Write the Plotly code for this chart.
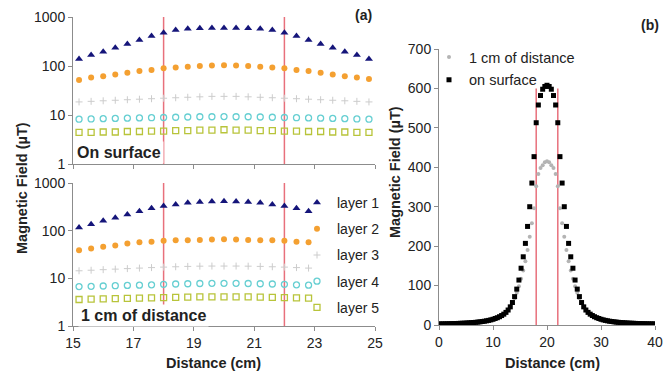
import plotly.graph_objects as go

W, H = 664, 372

# ---------------- data: panel (a) ----------------
x_top = [15.2, 15.6, 16.0, 16.4, 16.8, 17.2, 17.6, 18.0, 18.4, 18.8, 19.2, 19.6, 20.0,
         20.4, 20.8, 21.2, 21.6, 22.0, 22.4, 22.8, 23.2, 23.6, 24.0, 24.4, 24.8]
top_layer1 = [139, 167, 195, 236, 280, 339, 408, 478, 540, 575, 588, 595, 598,
              595, 588, 575, 540, 478, 408, 339, 280, 236, 195, 167, 139]
top_layer2 = [52, 58, 62, 67, 73, 79, 83, 90, 93, 97, 100, 102, 104,
              102, 100, 97, 93, 90, 83, 79, 73, 67, 62, 58, 54]
top_layer3 = [18.5, 19, 19.5, 20, 20.5, 21, 21.5, 22, 22.5, 23, 23.5, 24, 24,
              24, 23.5, 23, 22.5, 22, 21.5, 21, 20.5, 20, 19.5, 19, 18.5]
top_layer4 = [8.2, 8.3, 8.4, 8.5, 8.6, 8.7, 8.8, 8.9, 9.0, 9.1, 9.2, 9.2, 9.3,
              9.2, 9.2, 9.1, 9.0, 8.9, 8.8, 8.7, 8.6, 8.5, 8.4, 8.3, 8.2]
top_layer5 = [4.4, 4.4, 4.5, 4.5, 4.6, 4.6, 4.7, 4.7, 4.8, 4.8, 4.9, 4.9, 5.0,
              4.9, 4.9, 4.8, 4.8, 4.7, 4.7, 4.6, 4.6, 4.5, 4.5, 4.4, 4.4]

x_bot = [15.2, 15.6, 16.0, 16.4, 16.8, 17.2, 17.6, 18.0, 18.4, 18.8, 19.2, 19.6, 20.0,
         20.4, 20.8, 21.2, 21.6, 22.0, 22.4, 22.8]
bot_layer1 = [117, 137, 161, 187, 219, 257, 294, 330, 355, 385, 398, 410, 415,
              410, 398, 385, 355, 330, 294, 257]
bot_layer2 = [39, 42.5, 46, 49, 54, 57, 58.5, 61.5, 63, 63, 64, 65, 66,
              65, 64, 63, 63, 61.5, 58.5, 57]
bot_layer3 = [14.4, 14.8, 15.2, 15.6, 16, 16.4, 16.8, 17.2, 17.5, 17.8, 18, 18.1, 18.1,
              18.1, 18, 17.8, 17.5, 17.2, 16.8, 16.4]
bot_layer4 = [6.7, 6.8, 6.9, 7.0, 7.1, 7.2, 7.3, 7.5, 7.6, 7.7, 7.8, 7.85, 7.85,
              7.85, 7.8, 7.7, 7.6, 7.5, 7.3, 7.2]
bot_layer5 = [3.6, 3.65, 3.7, 3.75, 3.8, 3.85, 3.9, 3.95, 4.0, 4.05, 4.1, 4.1, 4.1,
              4.1, 4.1, 4.05, 4.0, 3.95, 3.9, 3.85]

layer_names = ["layer 1", "layer 2", "layer 3", "layer 4", "layer 5"]
log_ticks = [1, 10, 100, 1000]
a_xticks = [15, 17, 19, 21, 23, 25]
coil_edges = [18, 22]

# ---------------- data: panel (b) ----------------
x_b = [round(0.4 * i, 1) for i in range(101)]   # sampling grid 0..40 cm
on_surface = [2.7, 2.8, 2.9, 3.0, 3.1, 3.3, 3.4, 3.6, 3.8, 4.0, 4.3, 4.5, 4.8, 5.1, 5.5, 5.9,
              6.3, 6.8, 7.4, 8.0, 8.8, 9.6, 10.6, 11.7, 13, 14.5, 16.5, 18.5, 21, 24, 27.5,
              32, 38, 46, 57, 72, 91, 114, 144, 173, 207, 250, 300, 360, 427, 513, 558, 582,
              598, 605, 608,
              605, 598, 582, 558, 513, 427, 360, 300, 250, 207, 173, 144, 114, 91, 72, 57,
              46, 38, 32, 27.5, 24, 21, 18.5, 16.5, 14.5, 13, 11.7, 10.6, 9.6, 8.8, 8.0, 7.4,
              6.8, 6.3, 5.9, 5.5, 5.1, 4.8, 4.5, 4.3, 4.0, 3.8, 3.6, 3.4, 3.3, 3.1, 3.0, 2.9,
              2.8, 2.7]
one_cm = [2.6, 2.7, 2.8, 2.9, 3.0, 3.2, 3.3, 3.5, 3.7, 3.9, 4.2, 4.4, 4.7, 5.0, 5.4, 5.8,
          6.2, 6.7, 7.3, 7.9, 8.6, 9.4, 10.4, 11.5, 12.8, 14.3, 16.3, 18.5, 21, 24, 28,
          33, 39, 47, 56, 68, 82, 98, 117, 138, 162, 190, 224, 258, 296, 352, 383, 398,
          405, 413, 415,
          413, 405, 398, 383, 352, 296, 258, 224, 190, 162, 138, 117, 98, 82, 68, 56,
          47, 39, 33, 28, 24, 21, 18.5, 16.3, 14.3, 12.8, 11.5, 10.4, 9.4, 8.6, 7.9, 7.3,
          6.7, 6.2, 5.8, 5.4, 5.0, 4.7, 4.4, 4.2, 3.9, 3.7, 3.5, 3.3, 3.2, 3.0, 2.9, 2.8,
          2.7, 2.6]
b_names = ["1 cm of distance", "on surface"]
b_xticks = [0, 10, 20, 30, 40]
b_yticks = [0, 100, 200, 300, 400, 500, 600, 700]

# ---------------- styles ----------------
FONT = "Liberation Sans, Arial, sans-serif"
TXT = "#222222"
AX = "#8c8c8c"
RED = "#e8707c"
styles = [
    dict(symbol="triangle-up", size=7, color="#15157a"),
    dict(symbol="circle", size=6, color="#f4a031"),
    dict(symbol="cross-thin", size=5, color="#cccccc", line=dict(width=1, color="#cccccc")),
    dict(symbol="circle-open", size=6, color="#66cfd2", line=dict(width=1.3)),
    dict(symbol="square-open", size=6, color="#b8c43a", line=dict(width=1.3)),
]

def px(x):
    return x / W

def py(y):
    return 1 - y / H

fig = go.Figure()

top_series = [top_layer1, top_layer2, top_layer3, top_layer4, top_layer5]
bot_series = [bot_layer1, bot_layer2, bot_layer3, bot_layer4, bot_layer5]
for i, (name, vals) in enumerate(zip(layer_names, top_series)):
    fig.add_trace(go.Scatter(x=x_top, y=vals, mode="markers", name=name,
                             marker=styles[i], showlegend=False,
                             xaxis="x", yaxis="y"))
for i, (name, vals) in enumerate(zip(layer_names, bot_series)):
    fig.add_trace(go.Scatter(x=x_bot, y=vals, mode="markers", name=name,
                             marker=styles[i], legendgroup=name, legend="legend",
                             xaxis="x2", yaxis="y2"))

fig.add_trace(go.Scatter(x=x_b, y=one_cm, mode="markers", name=b_names[0],
                         marker=dict(symbol="circle", size=4, color="#b4b4b4"),
                         legend="legend2", legendgroup="g1", xaxis="x3", yaxis="y3"))
fig.add_trace(go.Scatter(x=x_b, y=on_surface, mode="markers", name=b_names[1],
                         marker=dict(symbol="square", size=5, color="#000000"),
                         legend="legend2", legendgroup="g2", xaxis="x3", yaxis="y3"))

# coil edge lines
shapes = []
for e in coil_edges:
    shapes.append(dict(type="line", xref="x", yref="y domain", x0=e, x1=e, y0=0, y1=1,
                       line=dict(color=RED, width=1.5), layer="below"))
    shapes.append(dict(type="line", xref="x2", yref="y2 domain", x0=e, x1=e, y0=0, y1=1,
                       line=dict(color=RED, width=1.5), layer="below"))
    shapes.append(dict(type="line", xref="x3", yref="y3", x0=e, x1=e, y0=0, y1=600,
                       line=dict(color=RED, width=1.5), layer="below"))

axis_common = dict(showline=True, linecolor=AX, linewidth=1, ticks="outside",
                   tickcolor=AX, ticklen=4, showgrid=False, zeroline=False,
                   automargin=False,
                   tickfont=dict(family=FONT, size=14, color=TXT))

xa_dom = [px(73), px(375)]
fig.update_layout(
    width=W, height=H,
    margin=dict(l=0, r=0, t=0, b=0, autoexpand=False),
    paper_bgcolor="white", plot_bgcolor="white",
    font=dict(family=FONT, color=TXT),
    shapes=shapes,
    xaxis=dict(domain=xa_dom, range=[15, 25], tickvals=a_xticks, showticklabels=False,
               anchor="y", **axis_common),
    yaxis=dict(domain=[py(164), py(17)], type="log", range=[0, 3], tickvals=log_ticks,
               ticktext=[str(v) for v in log_ticks], anchor="x", **axis_common),
    xaxis2=dict(domain=xa_dom, range=[15, 25], tickvals=a_xticks, anchor="y2",
                **axis_common),
    yaxis2=dict(domain=[py(326), py(183)], type="log", range=[0, 3], tickvals=log_ticks,
                ticktext=[str(v) for v in log_ticks], anchor="x2", **axis_common),
    xaxis3=dict(domain=[px(439), px(655)], range=[0, 40], tickvals=b_xticks, anchor="y3",
                **axis_common),
    yaxis3=dict(domain=[py(325), py(49)], range=[0, 700], tickvals=b_yticks, anchor="x3",
                **axis_common),
    legend=dict(x=px(297), y=py(187), xanchor="left", yanchor="top",
                bgcolor="rgba(0,0,0,0)", font=dict(family=FONT, size=14, color=TXT),
                tracegroupgap=5, itemwidth=30),
    legend2=dict(x=px(429), y=py(41), xanchor="left", yanchor="top",
                 bgcolor="rgba(0,0,0,0)", font=dict(family=FONT, size=14.5, color=TXT),
                 tracegroupgap=1, itemwidth=30),
)

def ann(text, x, y, size, bold=False, xanchor="center", angle=0, bg=None):
    t = f"<b>{text}</b>" if bold else text
    d = dict(text=t, x=px(x), y=py(y), xref="paper", yref="paper", showarrow=False,
             xanchor=xanchor, yanchor="middle", textangle=angle,
             font=dict(family=FONT, size=size, color=TXT))
    if bg:
        d.update(bgcolor=bg, borderpad=2)
    fig.add_annotation(**d)

ann("(a)", 374, 15, 14, bold=True, xanchor="right")
ann("(b)", 661, 25, 14, bold=True, xanchor="right")
ann("On surface", 74, 152, 16, bold=True, xanchor="left", bg="white")
ann("1 cm of distance", 78, 315, 16, bold=True, xanchor="left", bg="white")
ann("Magnetic Field (µT)", 22, 188, 14.5, bold=True, angle=-90)
ann("Magnetic Field (µT)", 395, 172, 14.5, bold=True, angle=-90)
ann("Distance (cm)", 213, 363, 14.5, bold=True)
ann("Distance (cm)", 552, 363, 14.5, bold=True)

fig.write_html("out.html", config={"displayModeBar": False},
               post_script="document.body.style.margin='0';document.body.style.padding='0';")
